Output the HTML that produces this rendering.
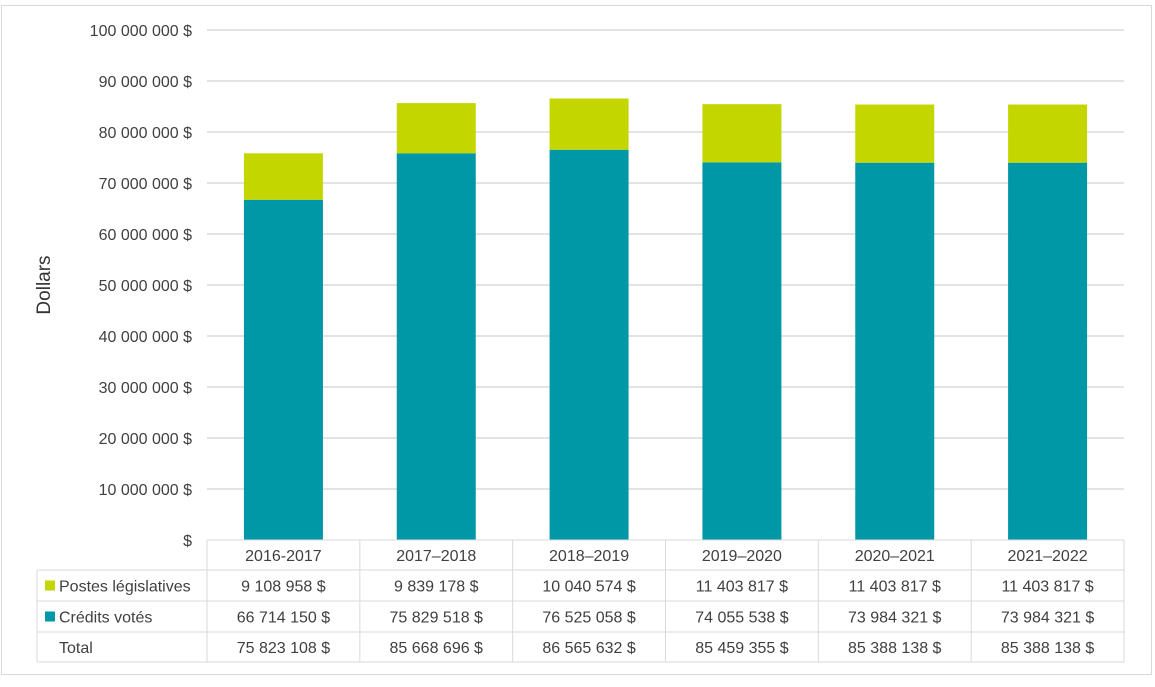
<!DOCTYPE html>
<html><head><meta charset="utf-8"><style>
body{margin:0;background:#fff;}
svg text{font-family:"Liberation Sans",sans-serif;fill:#404040;}
</style></head><body>
<svg id="c" width="1155" height="682" xmlns="http://www.w3.org/2000/svg">
<rect x="1.5" y="5.5" width="1150" height="669" fill="#fff" stroke="#d9d9d9"/>
<text transform="translate(50,285) rotate(-90)" text-anchor="middle" font-size="19" style="fill:#333">Dollars</text>
<g id="grid"></g><g id="bars"></g><g id="table"></g>
</svg>
<script>
const categories=["2016-2017","2017–2018","2018–2019","2019–2020","2020–2021","2021–2022"];
const postes=[9108958,9839178,10040574,11403817,11403817,11403817];
const credits=[66714150,75829518,76525058,74055538,73984321,73984321];
const posteLabels=["9 108 958 $","9 839 178 $","10 040 574 $","11 403 817 $","11 403 817 $","11 403 817 $"];
const creditLabels=["66 714 150 $","75 829 518 $","76 525 058 $","74 055 538 $","73 984 321 $","73 984 321 $"];
const totalLabels=["75 823 108 $","85 668 696 $","86 565 632 $","85 459 355 $","85 388 138 $","85 388 138 $"];
const yTicks=[0,10000000,20000000,30000000,40000000,50000000,60000000,70000000,80000000,90000000,100000000];
const yTickLabels=["$","10 000 000 $","20 000 000 $","30 000 000 $","40 000 000 $","50 000 000 $","60 000 000 $","70 000 000 $","80 000 000 $","90 000 000 $","100 000 000 $"];
const NS="http://www.w3.org/2000/svg";
const x0=207,x1=1124,y0=540,yTop=30,maxV=100000000;
const colW=(x1-x0)/categories.length;
const y=v=>y0-(v/maxV)*(y0-yTop);
const xc=i=>x0+colW*(i+0.5);
function mk(tag,attrs,parent,text){const e=document.createElementNS(NS,tag);for(const k in attrs)e.setAttribute(k,attrs[k]);if(text!==undefined)e.textContent=text;parent.appendChild(e);return e;}
const grid=document.getElementById('grid'),bars=document.getElementById('bars'),tb=document.getElementById('table');
yTicks.forEach((t,i)=>{
 if(t>0){const l=mk('line',{x1:x0,x2:x1,y1:y(t),y2:y(t),stroke:'#e3e3e3','stroke-width':2},grid);
 
 }
 const tx=mk('text',{x:192,y:y(t)+6,'text-anchor':'end','font-size':16},grid,yTickLabels[i]);
 
 
});
const bw=79;
categories.forEach((c,i)=>{
 const r1=mk('rect',{x:xc(i)-bw/2,y:y(credits[i]),width:bw,height:y0-y(credits[i]),fill:'#0097A7'},bars);
 
 
 const r2=mk('rect',{x:xc(i)-bw/2,y:y(credits[i]+postes[i]),width:bw,height:y(credits[i])-y(credits[i]+postes[i]),fill:'#C3D600'},bars);
 
 
});
// table
const rows=[540,570,601,632,662];const tl=37;const lc='#d9d9d9';
for(let i=0;i<=categories.length;i++){const x=x0+colW*i;const l=mk('line',{x1:x,x2:x,y1:540,y2:662,stroke:lc},tb);}
const ll=mk('line',{x1:tl,x2:tl,y1:570,y2:662,stroke:lc},tb);
rows.forEach((ry,k)=>{const l=mk('line',{x1:k==0?x0:tl,x2:x1,y1:ry,y2:ry,stroke:lc},tb);});
const rowData=[categories,posteLabels,creditLabels,totalLabels];
rowData.forEach((arr,r)=>{arr.forEach((s,i)=>{const t=mk('text',{x:xc(i),y:(rows[r]+rows[r+1])/2+6,'text-anchor':'middle','font-size':16},tb,s);});});
const legend=[["Postes législatives","#C3D600"],["Crédits votés","#0097A7"],["Total",null]];
legend.forEach((lg,r)=>{const cy=(rows[r+1]+rows[r+2])/2;
 if(lg[1]){const s=mk('rect',{x:45,y:cy-5,width:10,height:10,fill:lg[1]},tb);}
 const t=mk('text',{x:59,y:cy+6,'font-size':16},tb,lg[0]);});
</script>
</body></html>
